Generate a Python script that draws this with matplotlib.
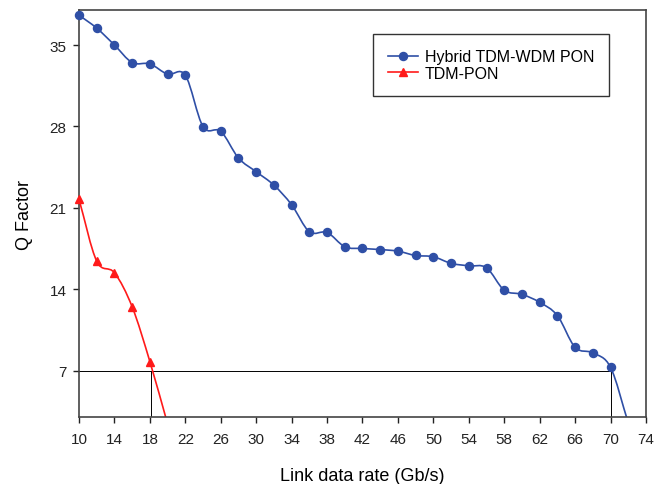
import numpy as np
import matplotlib
matplotlib.use("Agg")
import matplotlib.pyplot as plt
from matplotlib.path import Path
from matplotlib.patches import PathPatch
from matplotlib.lines import Line2D

plt.rcParams['font.family'] = ['Liberation Sans', 'DejaVu Sans']

# Data
hybrid_x = [10, 12, 14, 16, 18, 20, 22, 24, 26, 28, 30, 32, 34, 36, 38, 40, 42, 44,
            46, 48, 50, 52, 54, 56, 58, 60, 62, 64, 66, 68, 70, 72]
hybrid_q = [37.57, 36.45, 35.0, 33.49, 33.38, 32.49, 32.4, 27.98, 27.58, 25.28, 24.1,
            22.95, 21.26, 18.94, 18.88, 17.65, 17.5, 17.41, 17.27, 16.9, 16.79, 16.22,
            16.01, 15.84, 13.91, 13.56, 12.87, 11.73, 9.0, 8.52, 7.28, 2.5]
tdm_x = [10, 12, 14, 16, 18, 20]
tdm_q = [21.72, 16.41, 15.41, 12.48, 7.77, 2.4]

threshold_q = 7
hybrid_cross = 70
tdm_cross = 18.15

xticks = list(range(10, 75, 4))
yticks = [7, 14, 21, 28, 35]

blue = '#2F4FA6'
red = '#FF1A1A'


def smooth_path(x, y):
    x = np.asarray(x, float)
    y = np.asarray(y, float)
    n = len(x)
    tx = np.zeros(n)
    ty = np.zeros(n)
    for i in range(n):
        if i == 0:
            tx[i] = x[1] - x[0]; ty[i] = y[1] - y[0]
        elif i == n - 1:
            tx[i] = x[-1] - x[-2]; ty[i] = y[-1] - y[-2]
        else:
            tx[i] = (x[i + 1] - x[i - 1]) / 2; ty[i] = (y[i + 1] - y[i - 1]) / 2
    verts = [(x[0], y[0])]
    codes = [Path.MOVETO]
    for i in range(n - 1):
        verts += [(x[i] + tx[i] / 3, y[i] + ty[i] / 3),
                  (x[i + 1] - tx[i + 1] / 3, y[i + 1] - ty[i + 1] / 3),
                  (x[i + 1], y[i + 1])]
        codes += [Path.CURVE4] * 3
    return Path(verts, codes)


fig = plt.figure(figsize=(6.68, 4.85), dpi=100)
ax = fig.add_axes([0.1183, 0.138, 0.8487, 0.839])

ax.set_xlim(10, 74)
ax.set_ylim(3, 38)

# reference lines
ax.plot([10, hybrid_cross], [threshold_q, threshold_q], color='black', lw=0.7, zorder=1)
ax.plot([hybrid_cross, hybrid_cross], [3, threshold_q], color='black', lw=0.7, zorder=1)
ax.plot([tdm_cross, tdm_cross], [3, threshold_q], color='black', lw=0.7, zorder=1)

for xs, ys, c in [(hybrid_x, hybrid_q, blue), (tdm_x, tdm_q, red)]:
    patch = PathPatch(smooth_path(xs, ys), fill=False, edgecolor=c, lw=1.2, zorder=2)
    ax.add_patch(patch)

# markers for points inside the visible range (last points fall below the axis)
ax.plot(hybrid_x[:-1], hybrid_q[:-1], linestyle='none', marker='o', ms=5.8, color=blue,
        zorder=3, clip_on=False)
ax.plot(tdm_x[:-1], tdm_q[:-1], linestyle='none', marker='^', ms=6.3, color=red,
        zorder=3, clip_on=False)

ax.set_xticks(xticks)
ax.set_yticks(yticks)
ax.tick_params(direction='out', length=4, width=1, labelsize=11, colors='#222222',
               top=False, right=False)
ax.tick_params(axis='x', pad=7)
ax.tick_params(axis='y', pad=5)
for s in ax.spines.values():
    s.set_linewidth(1.2)
    s.set_color('#444444')

ax.set_xlabel('Link data rate (Gb/s)', fontsize=13, labelpad=15)
ax.set_ylabel('Q Factor', fontsize=13, labelpad=12)

handles = [Line2D([], [], color=blue, marker='o', ms=5.8, lw=1.2),
           Line2D([], [], color=red, marker='^', ms=6.3, lw=1.2)]
leg = ax.legend(handles, ['Hybrid TDM-WDM PON', 'TDM-PON'], loc='upper left',
                bbox_to_anchor=(0.518, 0.941), fontsize=11.5, frameon=True,
                fancybox=False, edgecolor='#333333', framealpha=1,
                borderpad=0.95, labelspacing=0.1, handlelength=1.9, handletextpad=0.4,
                borderaxespad=0)
leg.get_frame().set_linewidth(1.0)

fig.savefig('out.png', dpi=100)
